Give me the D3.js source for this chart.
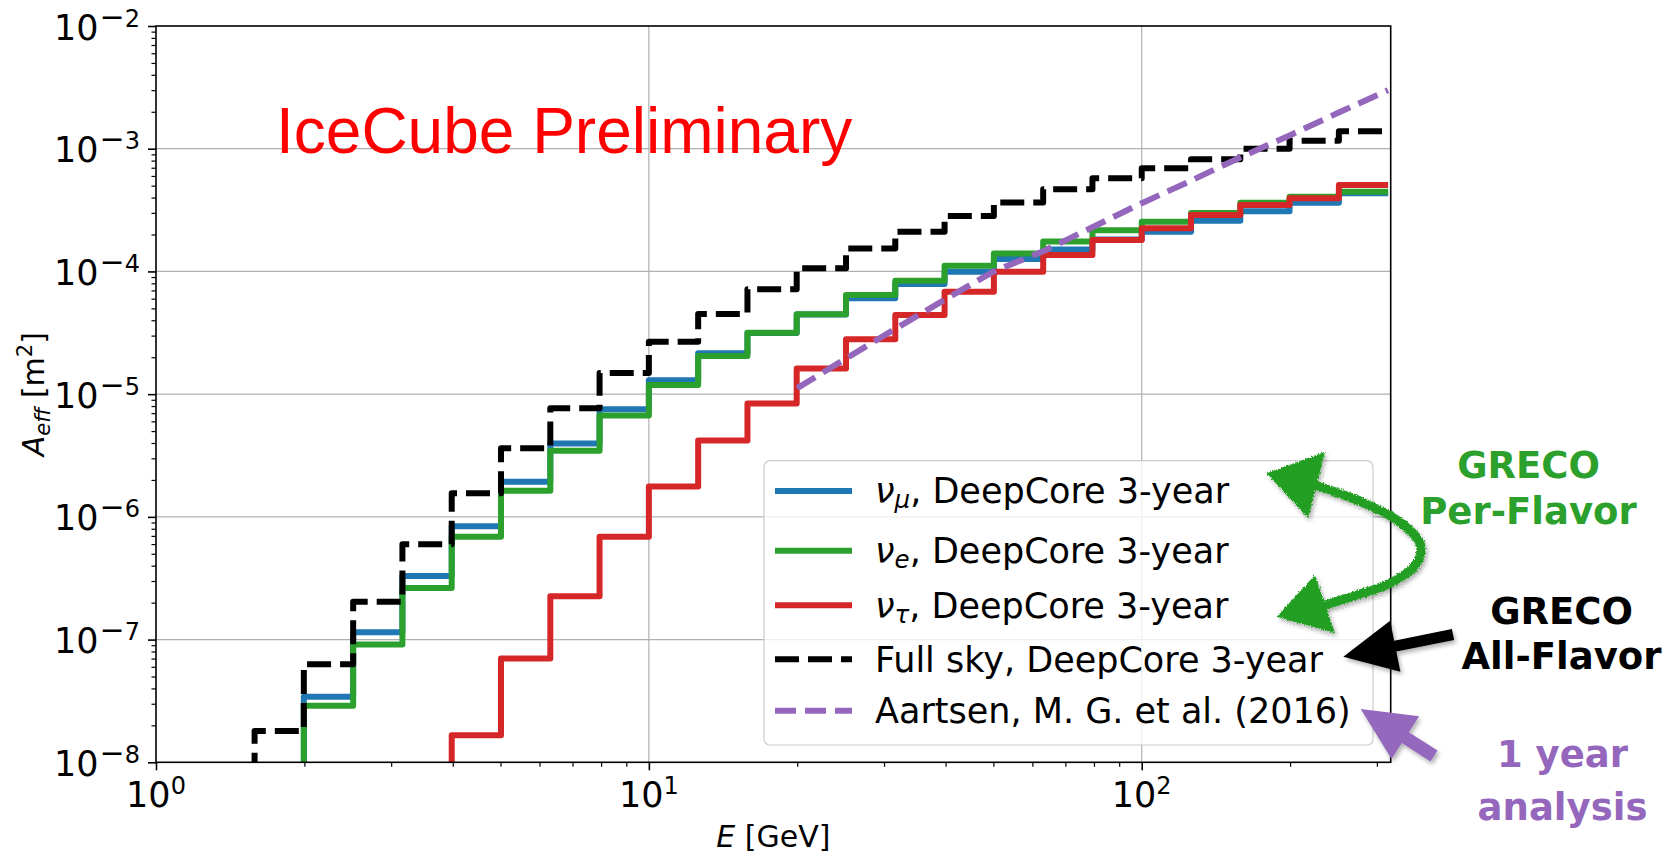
<!DOCTYPE html>
<html>
<head>
<meta charset="utf-8">
<script src="https://cdn.jsdelivr.net/npm/d3@7"></script>
<style>
  body { margin: 0; background: #fff; }
  svg { display: block; }
</style>
</head>
<body>
<svg id="chart" width="1676" height="854" font-family="'DejaVu Sans', sans-serif"></svg>
<script>
// Energy bin edges [GeV]
const binEdges = [1.585, 1.995, 2.512, 3.162, 3.981, 5.012, 6.310, 7.943, 10.0, 12.59, 15.85, 19.95,
                  25.12, 31.62, 39.81, 50.12, 63.10, 79.43, 100.0, 125.9, 158.5, 199.5, 251.2, 316.2];

// Effective area per bin [m^2]; 0 = below the plotted range
const numuArea = [0, 3.42e-8, 1.15e-7, 3.3e-7, 8.4e-7, 1.93e-6, 3.97e-6, 7.52e-6, 1.30e-5, 2.15e-5, 3.15e-5,
                  4.45e-5, 6.04e-5, 7.9e-5, 9.95e-5, 1.26e-4, 1.51e-4, 1.82e-4, 2.11e-4, 2.59e-4, 3.1e-4, 3.63e-4, 4.33e-4];
const nueArea = [0, 2.89e-8, 9.1e-8, 2.63e-7, 6.89e-7, 1.63e-6, 3.46e-6, 6.7e-6, 1.19e-5, 2.05e-5, 3.16e-5,
                 4.47e-5, 6.42e-5, 8.4e-5, 1.11e-4, 1.40e-4, 1.75e-4, 2.17e-4, 2.54e-4, 3.0e-4, 3.63e-4, 4.06e-4, 4.46e-4];
const nutauArea = [0, 0, 0, 0, 1.66e-8, 7.0e-8, 2.26e-7, 6.89e-7, 1.77e-6, 4.2e-6, 8.4e-6,
                   1.62e-5, 2.8e-5, 4.41e-5, 6.84e-5, 9.95e-5, 1.36e-4, 1.80e-4, 2.25e-4, 2.88e-4, 3.48e-4, 3.94e-4, 5.06e-4];
const fullSkyArea = [1.8e-8, 6.3e-8, 2.03e-7, 5.97e-7, 1.56e-6, 3.62e-6, 7.66e-6, 1.49e-5, 2.67e-5, 4.5e-5, 7.15e-5,
                     1.06e-4, 1.54e-4, 2.11e-4, 2.83e-4, 3.65e-4, 4.67e-4, 5.74e-4, 6.92e-4, 8.2e-4, 1.0e-3, 1.16e-3, 1.39e-3];

// Aartsen et al. (2016) curve
const aartsenEnergy = [20, 25.1, 31.6, 39.8, 50.1, 63.1, 79.4, 100, 126, 158, 200, 251, 316];
const aartsenArea = [1.12e-5, 1.95e-5, 3.4e-5, 5.87e-5, 1.0e-4, 1.46e-4, 2.29e-4, 3.6e-4, 5.5e-4, 8.45e-4, 1.29e-3, 1.97e-3, 3.0e-3];

// Axis ticks
const xMajorTicks = [1, 10, 100];
const xMajorExponents = ["0", "1", "2"];
const xMinorTicks = [2, 3, 4, 5, 6, 7, 8, 9, 20, 30, 40, 50, 60, 70, 80, 90, 200, 300];
const yMajorTicks = [1e-8, 1e-7, 1e-6, 1e-5, 1e-4, 1e-3, 1e-2];
const yMajorExponents = ["8", "7", "6", "5", "4", "3", "2"];
const yMinorTicks = [];
[-8, -7, -6, -5, -4, -3].forEach(e => [2, 3, 4, 5, 6, 7, 8, 9].forEach(m => yMinorTicks.push(m * Math.pow(10, e))));

const legendLabels = [
  { sym: "\u03BD", sub: "\u03BC", rest: ", DeepCore 3-year" },
  { sym: "\u03BD", sub: "e", rest: ", DeepCore 3-year" },
  { sym: "\u03BD", sub: "\u03C4", rest: ", DeepCore 3-year" },
  { sym: "", sub: "", rest: "Full sky, DeepCore 3-year" },
  { sym: "", sub: "", rest: "Aartsen, M. G. et al. (2016)" }
];

const C = { blue: "#1f77b4", green: "#2ca02c", red: "#d62728", black: "#000000", purple: "#9467bd" };

// ---- layout ----
const W = 1676, H = 854;
const plot = { left: 156, right: 1390.7, top: 26, bottom: 762.3 };
const X_MAX = 320, Y_FLOOR = 1e-10;
const LW = 6;
const DASH_BLACK = "24,9", DASH_PURPLE = "21,9";

const svg = d3.select("#chart");
svg.append("rect").attr("width", W).attr("height", H).attr("fill", "#fff");
const defs = svg.append("defs");
defs.append("clipPath").attr("id", "plotClip").append("rect")
  .attr("x", plot.left).attr("y", plot.top)
  .attr("width", plot.right - plot.left).attr("height", plot.bottom - plot.top);

const shadow = defs.append("filter").attr("id", "shadow")
  .attr("x", "-30%").attr("y", "-30%").attr("width", "160%").attr("height", "160%");
shadow.append("feDropShadow").attr("dx", 2).attr("dy", 3).attr("stdDeviation", 2)
  .attr("flood-color", "#000").attr("flood-opacity", 0.3);

const crayon = defs.append("filter").attr("id", "crayon")
  .attr("x", "-10%").attr("y", "-10%").attr("width", "120%").attr("height", "120%");
crayon.append("feTurbulence").attr("type", "fractalNoise").attr("baseFrequency", 0.7)
  .attr("numOctaves", 2).attr("seed", 3).attr("result", "noise");
crayon.append("feDisplacementMap").attr("in", "SourceGraphic").attr("in2", "noise")
  .attr("scale", 4).attr("xChannelSelector", "R").attr("yChannelSelector", "G");

const x = d3.scaleLog().domain([1, X_MAX]).range([plot.left, plot.right]);
const y = d3.scaleLog().domain([1e-8, 1e-2]).range([plot.bottom, plot.top]).clamp(false);

// grid
const grid = svg.append("g").attr("stroke", "#b0b0b0").attr("stroke-width", 1.2);
grid.selectAll("line.gx").data(xMajorTicks.slice(1)).join("line")
  .attr("x1", d => x(d)).attr("x2", d => x(d)).attr("y1", plot.top).attr("y2", plot.bottom);
grid.selectAll("line.gy").data(yMajorTicks.slice(1, -1)).join("line")
  .attr("y1", d => y(d)).attr("y2", d => y(d)).attr("x1", plot.left).attr("x2", plot.right);

// step lines
function stepPoints(values) {
  const pts = [[binEdges[0], Y_FLOOR]];
  values.forEach((v, i) => {
    const yv = v > 0 ? v : Y_FLOOR;
    pts.push([binEdges[i], yv], [binEdges[i + 1], yv]);
  });
  return pts;
}
const line = d3.line().x(d => x(d[0])).y(d => y(d[1]));
const dataG = svg.append("g").attr("clip-path", "url(#plotClip)")
  .attr("fill", "none").attr("stroke-linejoin", "round");

const series = [
  { values: numuArea, color: C.blue },
  { values: nueArea, color: C.green },
  { values: nutauArea, color: C.red }
];
series.forEach(s => {
  dataG.append("path").attr("d", line(stepPoints(s.values)))
    .attr("stroke", s.color).attr("stroke-width", LW);
});
dataG.append("path").attr("d", line(stepPoints(fullSkyArea)))
  .attr("stroke", C.black).attr("stroke-width", LW).attr("stroke-dasharray", DASH_BLACK);
dataG.append("path").attr("d", line(aartsenEnergy.map((e, i) => [e, aartsenArea[i]])))
  .attr("stroke", C.purple).attr("stroke-width", LW).attr("stroke-dasharray", DASH_PURPLE);

// ticks
const xAxisMajor = d3.axisBottom(x).tickValues(xMajorTicks).tickSize(8).tickFormat("");
const xAxisMinor = d3.axisBottom(x).tickValues(xMinorTicks).tickSize(4.5).tickFormat("");
const yAxisMajor = d3.axisLeft(y).tickValues(yMajorTicks).tickSize(8).tickFormat("");
const yAxisMinor = d3.axisLeft(y).tickValues(yMinorTicks).tickSize(4.5).tickFormat("");
[[xAxisMajor, 1.6], [xAxisMinor, 1.2]].forEach(([ax, w]) => {
  const g = svg.append("g").attr("transform", `translate(0,${plot.bottom})`).call(ax);
  g.select(".domain").remove();
  g.selectAll(".tick line").attr("stroke", "#000").attr("stroke-width", w);
});
[[yAxisMajor, 1.6], [yAxisMinor, 1.2]].forEach(([ax, w]) => {
  const g = svg.append("g").attr("transform", `translate(${plot.left},0)`).call(ax);
  g.select(".domain").remove();
  g.selectAll(".tick line").attr("stroke", "#000").attr("stroke-width", w);
});

// spines
svg.append("rect").attr("x", plot.left).attr("y", plot.top)
  .attr("width", plot.right - plot.left).attr("height", plot.bottom - plot.top)
  .attr("fill", "none").attr("stroke", "#000").attr("stroke-width", 1.6);

// tick labels
const tickFont = 35, supFont = 24;
svg.selectAll("text.xtl").data(xMajorTicks).join("text").attr("class", "xtl")
  .attr("x", d => x(d)).attr("y", 806.7).attr("text-anchor", "middle")
  .attr("font-size", tickFont).attr("fill", "#000")
  .each(function (d, i) {
    const t = d3.select(this);
    t.append("tspan").text("10");
    t.append("tspan").attr("dy", -13).attr("font-size", supFont).text(xMajorExponents[i]);
  });
svg.selectAll("text.ytl").data(yMajorTicks).join("text").attr("class", "ytl")
  .attr("x", 140).attr("y", d => y(d) + 13.5).attr("text-anchor", "end")
  .attr("font-size", tickFont).attr("fill", "#000")
  .each(function (d, i) {
    const t = d3.select(this);
    t.append("tspan").text("10");
    t.append("tspan").attr("dy", -13).attr("font-size", 30).attr("dx", 1).text("\u2212");
    t.append("tspan").attr("font-size", supFont).text(yMajorExponents[i]);
  });

// axis labels
const xl = svg.append("text").attr("x", (plot.left + plot.right) / 2).attr("y", 847)
  .attr("text-anchor", "middle").attr("font-size", 30).attr("fill", "#000");
xl.append("tspan").attr("font-style", "italic").text("E");
xl.append("tspan").text(" [GeV]");

const yl = svg.append("text").attr("transform", `translate(44,${(plot.top + plot.bottom) / 2}) rotate(-90)`)
  .attr("text-anchor", "middle").attr("font-size", 30).attr("fill", "#000");
yl.append("tspan").attr("font-style", "italic").text("A");
yl.append("tspan").attr("font-style", "italic").attr("font-size", 21).attr("dy", 6).text("eff");
yl.append("tspan").attr("dy", -6).text(" [m");
yl.append("tspan").attr("font-size", 21).attr("dy", -12).text("2");
yl.append("tspan").attr("dy", 12).text("]");

// watermark
svg.append("text").attr("x", 276).attr("y", 152.7)
  .attr("font-family", "'Liberation Sans', Arial, sans-serif").attr("font-size", 64)
  .attr("fill", "#ff0000").text("IceCube Preliminary");

// legend
const leg = { x: 764, y: 460.7, w: 609, h: 284.3 };
svg.append("rect").attr("x", leg.x).attr("y", leg.y).attr("width", leg.w).attr("height", leg.h)
  .attr("rx", 6).attr("fill", "#fff").attr("fill-opacity", 0.8)
  .attr("stroke", "#cccccc").attr("stroke-width", 1.2);
const legendLineY = [491, 550.7, 605.3, 659.3, 710.7];
const legendStyles = [
  { color: C.blue, dash: null }, { color: C.green, dash: null }, { color: C.red, dash: null },
  { color: C.black, dash: DASH_BLACK }, { color: C.purple, dash: DASH_PURPLE }
];
legendLabels.forEach((lab, i) => {
  const ly = legendLineY[i];
  svg.append("line").attr("x1", 775).attr("x2", 852).attr("y1", ly).attr("y2", ly)
    .attr("stroke", legendStyles[i].color).attr("stroke-width", LW)
    .attr("stroke-dasharray", legendStyles[i].dash);
  const t = svg.append("text").attr("x", 875).attr("y", ly + 12.3).attr("font-size", 35).attr("fill", "#000");
  if (lab.sym) {
    t.append("tspan").attr("font-style", "italic").text(lab.sym);
    t.append("tspan").attr("font-style", "italic").attr("font-size", 24.5).attr("dy", 5).text(lab.sub);
    t.append("tspan").attr("dy", -5).text(lab.rest);
  } else {
    t.append("tspan").text(lab.rest);
  }
});

// annotations
function arrowPolygon(tip, tail, headLen, headHalf, shaftHalf) {
  const dx = tail[0] - tip[0], dy = tail[1] - tip[1];
  const L = Math.hypot(dx, dy), ux = dx / L, uy = dy / L, nx = -uy, ny = ux;
  const bx = tip[0] + ux * headLen, by = tip[1] + uy * headLen;
  return [
    tip,
    [bx + nx * headHalf, by + ny * headHalf],
    [bx + nx * shaftHalf, by + ny * shaftHalf],
    [tail[0] + nx * shaftHalf, tail[1] + ny * shaftHalf],
    [tail[0] - nx * shaftHalf, tail[1] - ny * shaftHalf],
    [bx - nx * shaftHalf, by - ny * shaftHalf],
    [bx - nx * headHalf, by - ny * headHalf]
  ];
}
const polyPath = pts => "M" + pts.map(p => p.join(",")).join("L") + "Z";

svg.append("path").attr("d", polyPath(arrowPolygon([1343.3, 656.7], [1453, 634.5], 53, 26, 5.5)))
  .attr("fill", "#000").attr("filter", "url(#shadow)");
svg.append("path").attr("d", polyPath(arrowPolygon([1360.7, 709], [1434, 756], 53, 25.5, 6.5)))
  .attr("fill", C.purple).attr("filter", "url(#shadow)");

const greenArrow = svg.append("g").attr("filter", "url(#crayon)");
const gA = greenArrow.append("g").attr("filter", "url(#shadow)");
gA.append("path")
  .attr("d", d3.line().curve(d3.curveCatmullRom)([
    [1305, 482], [1356.7, 500], [1396.7, 520], [1420, 543.3], [1416.7, 563.3],
    [1390, 583.3], [1356.7, 595], [1315, 608]]))
  .attr("fill", "none").attr("stroke", "#229f22").attr("stroke-width", 9).attr("stroke-linecap", "round");
gA.append("path").attr("d", polyPath([[1266.7, 473.3], [1325, 451.7], [1308.3, 518.3]])).attr("fill", "#229f22");
gA.append("path").attr("d", polyPath([[1276.7, 616.7], [1315, 575], [1335, 633.3]])).attr("fill", "#229f22");

const notes = [
  { lines: ["GRECO", "Per-Flavor"], cx: 1528.5, y0: 478.3, y1: 524, color: "#2ca02c" },
  { lines: ["GRECO", "All-Flavor"], cx: 1561.5, y0: 624, y1: 669.3, color: "#000" },
  { lines: ["1 year", "analysis"], cx: 1562.5, y0: 767, y1: 820, color: C.purple }
];
notes.forEach(n => {
  [n.y0, n.y1].forEach((yy, i) => {
    svg.append("text").attr("x", n.cx).attr("y", yy).attr("text-anchor", "middle")
      .attr("font-size", 37).attr("font-weight", "bold").attr("fill", n.color).text(n.lines[i]);
  });
});
</script>
</body>
</html>
